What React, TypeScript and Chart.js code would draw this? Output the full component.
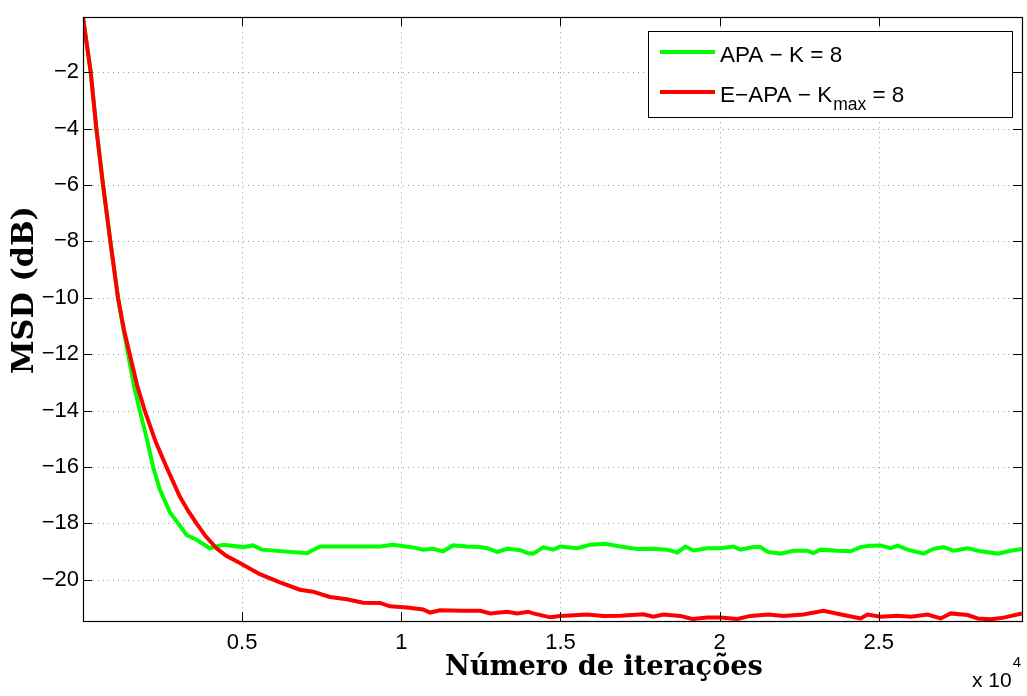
import React, { useEffect, useRef } from 'react';
import { Chart, registerables } from 'chart.js';

Chart.register(...registerables);

// ---- data (iterations, MSD in dB) ----
const greenX = [0, 242, 420, 630, 860, 1100, 1250, 1416, 1600, 1783, 1993, 2203, 2412, 2727, 2989, 3251, 3566, 3985, 4403, 5032, 5337, 5620, 6404, 7034, 7444, 8293, 9331, 9740, 10369, 10684, 10998, 11313, 11627, 12067, 12471, 12697, 13011, 13326, 13735, 13986, 14144, 14458, 14773, 14993, 15527, 15936, 16408, 16880, 17414, 17918, 18358, 18672, 18924, 19175, 19616, 20024, 20433, 20654, 21063, 21283, 21503, 21912, 22321, 22762, 22950, 23171, 23705, 24114, 24429, 24743, 25058, 25372, 25592, 25907, 26410, 26725, 27039, 27354, 27794, 28203, 28738, 29147, 29500];
const greenY = [-0.05, -2, -4, -6, -8, -10, -11.0, -12, -13.1, -14, -14.94, -16, -16.79, -17.6, -18.0, -18.41, -18.58, -18.88, -18.76, -18.84, -18.78, -18.93, -19.0, -19.06, -18.82, -18.82, -18.82, -18.76, -18.85, -18.93, -18.9, -18.99, -18.78, -18.82, -18.84, -18.88, -19.01, -18.9, -18.95, -19.06, -19.07, -18.85, -18.93, -18.82, -18.88, -18.76, -18.72, -18.82, -18.91, -18.9, -18.93, -19.03, -18.82, -18.96, -18.88, -18.88, -18.82, -18.93, -18.84, -18.84, -19.01, -19.07, -18.97, -18.97, -19.05, -18.93, -18.97, -18.99, -18.84, -18.79, -18.78, -18.88, -18.79, -18.93, -19.07, -18.9, -18.84, -18.97, -18.88, -18.99, -19.07, -18.97, -18.91];

const redX = [0, 242, 420, 630, 860, 1100, 1290, 1469, 1700, 1940, 2280, 2622, 3041, 3300, 3566, 3850, 4195, 4500, 4928, 5557, 6186, 6815, 7223, 7758, 8293, 8797, 9331, 9646, 10181, 10684, 10904, 11219, 11942, 12477, 12792, 13326, 13641, 13986, 14144, 14679, 14993, 15842, 16345, 16880, 17603, 17918, 18232, 18767, 19144, 19616, 20024, 20559, 20968, 21534, 22007, 22636, 23265, 23894, 24429, 24649, 25058, 25592, 26000, 26536, 26945, 27260, 27794, 28109, 28517, 28926, 29500];
const redY = [-0.05, -2, -4, -6, -8, -10, -11.15, -12, -13.1, -14, -15.1, -16, -17.05, -17.55, -18, -18.45, -18.88, -19.15, -19.4, -19.8, -20.09, -20.35, -20.42, -20.61, -20.69, -20.81, -20.82, -20.94, -20.98, -21.05, -21.16, -21.08, -21.1, -21.1, -21.19, -21.13, -21.19, -21.13, -21.19, -21.33, -21.28, -21.23, -21.28, -21.27, -21.22, -21.31, -21.23, -21.28, -21.39, -21.34, -21.34, -21.39, -21.28, -21.23, -21.28, -21.23, -21.1, -21.25, -21.37, -21.23, -21.31, -21.27, -21.31, -21.23, -21.37, -21.19, -21.25, -21.37, -21.4, -21.34, -21.19];

const xTickValues = [5000, 10000, 15000, 20000, 25000];
const xTickLabels = ['0.5', '1', '1.5', '2', '2.5'];
const yTickValues = [-2, -4, -6, -8, -10, -12, -14, -16, -18, -20];
const yTickLabels = ['−2', '−4', '−6', '−8', '−10', '−12', '−14', '−16', '−18', '−20'];

const seriesLabels = ['APA − K = 8', 'E−APA − K_max = 8'];
const seriesColors = ['#00ff00', '#ff0000'];
const xTitle = 'Número de iterações';
const yTitle = 'MSD (dB)';
const xMultiplierBase = 'x 10';
const xMultiplierExp = '4';

const X_MIN = 0;
const X_MAX = 29500;
const Y_MIN = -21.46;
const Y_MAX = -0.05;

const SANS = '"Liberation Sans", Arial, Helvetica, sans-serif';
const SERIF = '"DejaVu Serif", "Liberation Serif", serif';

function fitFont(ctx: CanvasRenderingContext2D, text: string, target: number) {
  const base = 30;
  ctx.font = `bold ${base}px ${SERIF}`;
  const w = ctx.measureText(text).width;
  const size = (base * target) / w;
  ctx.font = `bold ${size}px ${SERIF}`;
}

const overlay = {
  id: 'overlay',
  beforeDatasetsDraw(chart: any) {
    const { ctx, chartArea: a, scales } = chart;
    const x = scales.x;
    const y = scales.y;
    ctx.save();
    ctx.strokeStyle = '#9a9a9a';
    ctx.lineWidth = 1;
    ctx.setLineDash([1, 4]);
    xTickValues.forEach((v) => {
      const px = Math.round(x.getPixelForValue(v)) + 0.5;
      ctx.beginPath();
      ctx.moveTo(px, a.top);
      ctx.lineTo(px, a.bottom);
      ctx.stroke();
    });
    yTickValues.forEach((v) => {
      const py = Math.round(y.getPixelForValue(v)) + 0.5;
      ctx.beginPath();
      ctx.moveTo(a.left, py);
      ctx.lineTo(a.right, py);
      ctx.stroke();
    });
    ctx.restore();
  },
  afterDatasetsDraw(chart: any) {
    const { ctx, chartArea: a, scales } = chart;
    const x = scales.x;
    const y = scales.y;
    ctx.save();
    ctx.setLineDash([]);
    // box
    ctx.strokeStyle = '#000';
    ctx.lineWidth = 1.2;
    ctx.strokeRect(Math.round(a.left) + 0.5, Math.round(a.top) + 0.5, Math.round(a.right - a.left), Math.round(a.bottom - a.top));
    // inward ticks
    const tl = 9;
    ctx.lineWidth = 1;
    xTickValues.forEach((v) => {
      const px = Math.round(x.getPixelForValue(v)) + 0.5;
      ctx.beginPath();
      ctx.moveTo(px, a.bottom);
      ctx.lineTo(px, a.bottom - tl);
      ctx.moveTo(px, a.top);
      ctx.lineTo(px, a.top + tl);
      ctx.stroke();
    });
    yTickValues.forEach((v) => {
      const py = Math.round(y.getPixelForValue(v)) + 0.5;
      ctx.beginPath();
      ctx.moveTo(a.left, py);
      ctx.lineTo(a.left + tl, py);
      ctx.moveTo(a.right, py);
      ctx.lineTo(a.right - tl, py);
      ctx.stroke();
    });

    // legend
    const lx = 648.5, ly = 31.5, lw = 364, lh = 86;
    ctx.fillStyle = '#fff';
    ctx.fillRect(lx, ly, lw, lh);
    ctx.strokeStyle = '#000';
    ctx.lineWidth = 1;
    ctx.strokeRect(lx, ly, lw, lh);
    const rows = [52, 92];
    seriesLabels.forEach((label, i) => {
      const cy = rows[i];
      ctx.strokeStyle = seriesColors[i];
      ctx.lineWidth = 4;
      ctx.beginPath();
      ctx.moveTo(660, cy);
      ctx.lineTo(715, cy);
      ctx.stroke();
      ctx.fillStyle = '#000';
      ctx.textBaseline = 'alphabetic';
      ctx.textAlign = 'left';
      const baseline = cy + 9.5;
      const parts = label.split('_');
      ctx.font = `22.5px ${SANS}`;
      let tx = 720;
      ctx.fillText(parts[0], tx, baseline);
      tx += ctx.measureText(parts[0]).width;
      if (parts.length > 1) {
        const rest = parts[1];
        const sp = rest.indexOf(' ');
        const sub = sp >= 0 ? rest.slice(0, sp) : rest;
        const tail = sp >= 0 ? rest.slice(sp) : '';
        ctx.font = `17.5px ${SANS}`;
        ctx.fillText(sub, tx + 1, baseline + 8.5);
        tx += ctx.measureText(sub).width + 1;
        ctx.font = `22.5px ${SANS}`;
        ctx.fillText(tail, tx, baseline);
      }
    });

    // axis titles
    ctx.fillStyle = '#000';
    fitFont(ctx, xTitle, 318);
    ctx.textAlign = 'center';
    ctx.textBaseline = 'alphabetic';
    ctx.fillText(xTitle, 604, 675);

    ctx.save();
    ctx.translate(33, 290);
    ctx.rotate(-Math.PI / 2);
    fitFont(ctx, yTitle, 168);
    ctx.textAlign = 'center';
    ctx.fillText(yTitle, 0, 0);
    ctx.restore();

    // x multiplier
    ctx.textAlign = 'left';
    ctx.font = `21px ${SANS}`;
    ctx.fillText(xMultiplierBase, 972, 687);
    const bw = ctx.measureText(xMultiplierBase).width;
    ctx.font = `15px ${SANS}`;
    ctx.fillText(xMultiplierExp, 972 + bw + 1, 667);
    ctx.restore();
  },
};

export default function App() {
  const ref = useRef<HTMLCanvasElement>(null);
  useEffect(() => {
    if (!ref.current) return;
    const chart = new Chart(ref.current, {
      type: 'line',
      data: {
        datasets: [
          {
            label: seriesLabels[0],
            data: greenX.map((v, i) => ({ x: v, y: greenY[i] })),
            borderColor: seriesColors[0],
            backgroundColor: seriesColors[0],
            borderWidth: 4,
            pointRadius: 0,
            tension: 0,
            order: 1,
            clip: 0,
          },
          {
            label: seriesLabels[1],
            data: redX.map((v, i) => ({ x: v, y: redY[i] })),
            borderColor: seriesColors[1],
            backgroundColor: seriesColors[1],
            borderWidth: 4,
            pointRadius: 0,
            tension: 0,
            order: 0,
            clip: 0,
          },
        ],
      },
      options: {
        responsive: false,
        animation: false,
        devicePixelRatio: 1,
        layout: { padding: { left: 0, right: 5, top: 5, bottom: 0 } },
        plugins: { legend: { display: false }, tooltip: { enabled: false } },
        scales: {
          x: {
            type: 'linear',
            min: X_MIN,
            max: X_MAX,
            grid: { display: false, drawTicks: false },
            border: { display: false },
            afterBuildTicks: (s: any) => {
              s.ticks = xTickValues.map((v) => ({ value: v }));
            },
            afterFit: (s: any) => {
              s.height = 75;
            },
            ticks: {
              autoSkip: false,
              maxRotation: 0,
              padding: 9,
              color: '#000',
              font: { family: SANS, size: 22 },
              callback: (v: any) => {
                const i = xTickValues.indexOf(Number(v));
                return i >= 0 ? xTickLabels[i] : '';
              },
            },
          },
          y: {
            type: 'linear',
            min: Y_MIN,
            max: Y_MAX,
            grid: { display: false, drawTicks: false },
            border: { display: false },
            afterBuildTicks: (s: any) => {
              s.ticks = yTickValues.map((v) => ({ value: v }));
            },
            afterFit: (s: any) => {
              s.width = 83;
            },
            ticks: {
              autoSkip: false,
              padding: 4,
              color: '#000',
              font: { family: SANS, size: 22 },
              callback: (v: any) => {
                const i = yTickValues.indexOf(Number(v));
                return i >= 0 ? yTickLabels[i] : '';
              },
            },
          },
        },
      },
      plugins: [overlay],
    } as any);
    return () => chart.destroy();
  }, []);
  return (
    <div style={{ position: 'fixed', left: 0, top: 0, width: 1027, height: 696, background: '#fff' }}>
      <canvas ref={ref} width={1027} height={696} style={{ width: 1027, height: 696, display: 'block' }} />
    </div>
  );
}
